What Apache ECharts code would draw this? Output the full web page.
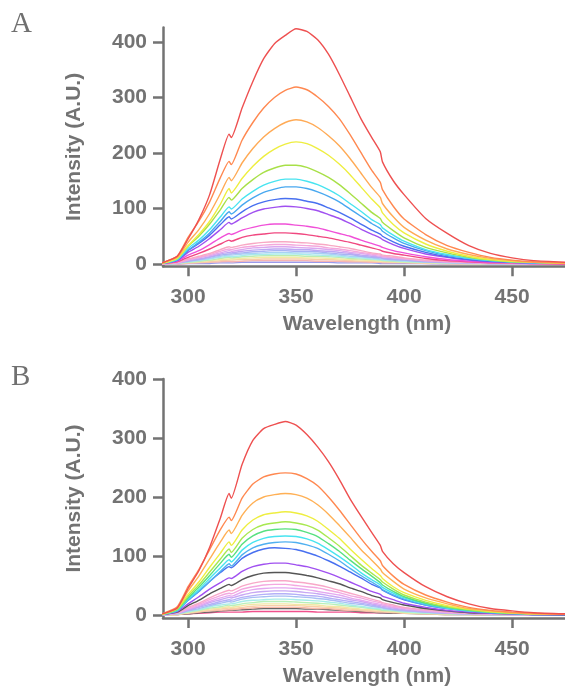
<!DOCTYPE html>
<html><head><meta charset="utf-8">
<script src="https://cdn.jsdelivr.net/npm/echarts@6.0.0/dist/echarts.min.js"></script>
<style>html,body{margin:0;padding:0;background:#fff}#c{width:565px;height:691px}</style>
</head><body><div id="c"></div>
<script>
// wavelength sampling (nm)
const wavelengths = [288,295,300,305,310,315,319,320,325,330,335,340,345,350,355,360,365,370,375,380,385,389,390,395,400,410,420,430,440,450,460,476];
const xTicks = [300,350,400,450];
const yTicks = [0,100,200,300,400];

// Panel A spectra
const aRed      = [2,14,45,80,125,190,234,228,281,329,370,397,412,424,419,404,378,342,302,262,228,202,184,150,125,82,55,33,19,11,6,3];
const aOrange   = [2,14,48,77,112,156,185,179,223,255,281,300,313,319,314,301,284,262,233,201,169,147,134,104,81,53,33,21,12,7,4,2];
const aLtOrange = [2,12,39,62,91,127,156,150,182,208,229,244,255,260,256,246,231,213,190,164,138,120,109,85,66,43,27,17,10,6,3,2];
const aYellow   = [1,10,33,53,77,108,136,128,154,176,194,207,216,220,217,208,196,180,161,139,117,101,92,71,56,36,23,14,8,5,3,1];
const aGreen    = [1,10,32,50,72,98,120,115,136,152,165,173,178,178,174,166,156,143,127,110,93,82,75,60,47,30,20,12,7,4,3,1];
const aCyan     = [1,8,28,43,62,85,103,99,117,131,142,149,153,153,149,143,134,123,109,95,80,71,65,52,41,26,17,10,6,4,2,1];
const aSky      = [1,8,25,39,56,77,94,90,106,119,129,135,139,139,136,130,122,112,99,86,73,64,59,47,37,24,15,10,6,3,2,1];
const aBlue     = [1,7,24,37,52,71,85,81,94,105,112,116,118,117,113,109,101,93,83,72,61,54,50,40,32,21,13,8,5,3,2,1];
const aPurple   = [1,6,21,32,46,62,75,72,83,93,99,102,104,103,100,96,89,82,73,63,54,47,44,35,28,18,12,7,4,3,2,1];
const aMagenta  = [1,5,16,24,35,47,55,53,61,66,70,72,72,70,68,65,60,55,50,43,37,32,30,24,20,13,8,5,3,2,1,1];
const aRose     = [1,4,12,19,27,36,43,41,48,52,54,56,56,55,53,50,47,43,39,34,29,25,23,19,16,10,6,4,2,2,1,0];
const aPale1    = [0,3,9,14,19,26,31,30,34,37,39,40,40,39,38,36,34,31,28,24,20,18,16,14,11,7,5,3,2,1,1,0];
const aPale2    = [0,2,8,12,17,23,27,26,30,32,34,35,35,34,33,32,29,27,24,21,18,16,14,12,10,6,4,3,2,1,1,0];
const aPale3    = [0,2,7,11,15,20,24,23,26,29,30,31,31,30,29,28,26,24,21,19,16,14,13,11,9,6,4,2,1,1,0,0];
const aPale4    = [0,2,6,9,13,18,21,20,23,25,26,27,27,26,26,24,23,21,19,16,14,12,11,9,8,5,3,2,1,1,0,0];
const aPale5    = [0,2,5,8,12,16,18,18,20,22,23,24,24,23,23,22,20,18,17,14,12,11,10,8,7,4,3,2,1,1,0,0];
const aPale6    = [0,1,5,7,10,14,16,16,18,19,20,21,21,20,20,19,18,16,14,13,11,9,9,7,6,4,2,2,1,1,0,0];
const aPale7    = [0,1,4,6,9,12,14,13,15,17,17,18,18,18,17,16,15,14,12,11,9,8,7,6,5,3,2,1,1,0,0,0];
const aPale8    = [0,1,3,5,7,10,12,11,13,14,15,15,15,15,14,14,13,12,10,9,8,7,6,5,4,3,2,1,1,0,0,0];
const aPale9    = [0,1,3,4,6,8,9,9,10,11,12,12,12,12,11,11,10,9,8,7,6,5,5,4,3,2,1,1,1,0,0,0];
const aPale10   = [0,1,2,3,4,6,7,7,8,8,9,9,9,9,9,8,8,7,6,5,5,4,4,3,3,2,1,1,0,0,0,0];
const aPale11   = [0,0,1,2,3,4,5,4,5,6,6,6,6,6,6,5,5,5,4,4,3,3,2,2,2,1,1,0,0,0,0,0];
const aPale12   = [0,0,1,1,1,2,2,2,3,3,3,3,3,3,3,3,3,2,2,2,2,1,1,1,1,1,0,0,0,0,0,0];

// Panel B spectra
const bRed      = [2,12,45,75,115,165,206,198,255,296,316,323,328,322,306,285,260,230,197,168,140,118,108,87,72,48,31,19,11,7,4,2];
const bOrange   = [2,14,48,77,111,145,166,160,198,222,234,239,241,239,231,219,200,178,154,130,108,92,84,66,52,34,22,13,8,5,3,1];
const bLtOrange = [2,12,41,66,95,124,144,138,169,190,200,204,206,204,198,187,171,152,132,111,93,78,72,57,44,29,19,11,7,4,2,1];
const bYellow   = [1,11,35,56,81,105,124,118,144,161,170,173,175,173,168,159,145,130,112,95,79,67,62,48,38,25,16,10,6,4,2,1];
const bYGreen   = [1,10,32,51,73,95,112,106,130,145,153,156,158,156,152,144,131,117,101,85,71,60,56,44,34,22,14,9,5,3,2,1];
const bGreen    = [1,9,29,47,67,88,103,98,120,134,142,145,146,145,140,133,121,108,93,79,66,55,51,40,31,20,13,8,5,3,2,1];
const bCyan     = [1,8,27,43,62,80,94,90,110,123,130,133,134,133,129,122,111,99,86,72,60,51,47,37,29,19,12,7,5,3,2,1];
const bSky      = [1,7,25,40,57,74,87,83,102,114,120,123,124,123,119,113,103,92,79,67,56,47,43,34,27,17,11,7,4,2,1,1];
const bBlue     = [1,8,25,40,57,72,82,80,96,106,112,114,113,111,106,100,92,83,73,63,52,46,42,33,26,17,11,7,4,3,1,1];
const bPurple   = [1,6,19,31,44,55,63,62,74,82,86,88,88,85,82,77,71,64,56,48,40,35,32,26,20,13,8,5,3,2,1,1];
const bGray     = [1,5,16,25,36,45,52,50,60,67,71,72,72,70,67,63,58,53,46,40,33,29,26,21,17,11,7,4,3,2,1,0];
const bPale1    = [1,4,13,20,29,37,42,41,49,54,57,58,58,56,54,51,47,42,37,32,27,23,21,17,13,9,6,3,2,1,1,0];
const bPale2    = [1,4,11,18,26,33,37,36,44,48,51,52,52,50,48,46,42,38,33,29,24,21,19,15,12,8,5,3,2,1,1,0];
const bPale3    = [0,3,10,16,23,29,33,32,39,43,45,46,46,45,43,40,37,34,29,25,21,18,17,13,11,7,4,3,2,1,1,0];
const bPale4    = [0,3,9,14,21,26,30,29,34,38,40,41,41,40,38,36,33,30,26,23,19,16,15,12,9,6,4,2,2,1,1,0];
const bPale5    = [0,3,8,13,18,23,26,25,30,33,35,36,36,35,33,32,29,26,23,20,17,14,13,10,8,5,3,2,1,1,0,0];
const bPale6    = [0,2,7,11,16,20,23,22,27,30,31,32,32,31,30,28,26,23,20,18,15,13,12,9,7,5,3,2,1,1,0,0];
const bPale7    = [0,2,6,9,14,17,19,19,23,25,26,27,27,26,25,24,22,20,17,15,12,11,10,8,6,4,3,2,1,1,0,0];
const bPale8    = [0,2,5,8,12,14,17,16,19,21,23,23,23,22,21,20,19,17,15,13,11,9,8,7,5,3,2,1,1,1,0,0];
const bPale9    = [0,1,4,7,10,12,14,13,16,18,19,19,19,18,18,17,15,14,12,10,9,8,7,6,4,3,2,1,1,0,0,0];
const bPale10   = [0,1,4,6,8,10,12,11,13,15,16,16,16,16,15,14,13,12,10,9,7,6,6,5,4,2,2,1,1,0,0,0];
const bPale11   = [0,1,3,5,7,8,9,9,11,12,13,13,13,13,12,11,11,9,8,7,6,5,5,4,3,2,1,1,0,0,0,0];
const bDark     = [0,1,2,4,5,7,8,8,9,10,11,11,11,11,10,10,9,8,7,6,5,4,4,3,3,2,1,1,0,0,0,0];
const bRoseLow  = [0,1,2,3,4,5,5,5,5,6,6,6,6,6,6,5,5,5,5,4,4,4,4,4,4,3,3,3,3,3,2,2];

const panelA = [aPale12,aPale11,aPale10,aPale9,aPale8,aPale7,aPale6,aPale5,aPale4,aPale3,aPale2,aPale1,
  aRose,aMagenta,aPurple,aBlue,aSky,aCyan,aGreen,aYellow,aLtOrange,aOrange,aRed];
const colorsA = ['#9a9aec','#f6b4b4','#f8cca8','#f2eaa4','#bcecb0','#a8ecea','#a8d2f4','#a8b4f4','#bca8f4','#dca8f0','#f4a8dc','#f8a8c4',
  '#f04880','#f050d8','#a050f0','#4870f0','#48a8f0','#48e4f0','#a8e048','#eeee40','#ffaa55','#ff8850','#ee5050'];
const panelB = [bRoseLow,bDark,bPale11,bPale10,bPale9,bPale8,bPale7,bPale6,bPale5,bPale4,bPale3,bPale2,bPale1,
  bGray,bPurple,bBlue,bSky,bCyan,bGreen,bYGreen,bYellow,bLtOrange,bOrange,bRed];
const colorsB = ['#f0508c','#666666','#f8b8a8','#f8d0a8','#f2e6a4','#b8f0b8','#a8ece8','#a8c0f4','#b4b0f8','#c8a8f4','#e4a8f0','#f4a8e0','#f8a8c8',
  '#555555','#a050f0','#4870f0','#50b0f0','#48e4f0','#58e080','#a8e850','#eeee40','#ffb055','#ff8850','#ee5050'];

const axisColor = '#737373';
const lblFont = {fontFamily:'Liberation Sans, Arial, sans-serif', fontWeight:'bold', fontSize:21, color:axisColor};

function xAx(gi){
  return {gridIndex:gi, type:'value', min:288.4, max:474.5,
    name:'Wavelength (nm)', nameLocation:'middle', nameGap:48,
    nameTextStyle:Object.assign({padding:[0,0,0,6]}, lblFont),
    axisLine:{onZero:false, lineStyle:{color:axisColor, width:2.5}},
    axisTick:{length:10, lineStyle:{color:axisColor, width:2.5}, customValues:xTicks},
    axisLabel:Object.assign({margin:21, customValues:xTicks}, lblFont),
    splitLine:{show:false}};
}
function yAx(gi, mn, mx){
  return {gridIndex:gi, type:'value', min:mn, max:mx,
    name:'Intensity (A.U.)', nameLocation:'middle', nameGap:78, nameRotate:90,
    nameTextStyle:Object.assign({}, lblFont),
    axisLine:{show:true, onZero:false, lineStyle:{color:axisColor, width:2.5}},
    axisTick:{show:true, length:10, lineStyle:{color:axisColor, width:2.5}, customValues:yTicks},
    axisLabel:Object.assign({margin:16, customValues:yTicks}, lblFont),
    splitLine:{show:false}};
}
function mk(arr, color, gi){
  return {type:'line', xAxisIndex:gi, yAxisIndex:gi, showSymbol:false, smooth:0.18,
    lineStyle:{color:color, width:1.4}, itemStyle:{color:color},
    data: wavelengths.map((w,i)=>[w, arr[i]]), silent:true};
}
const series = [];
panelA.forEach((a,i)=>series.push(mk(a, colorsA[i], 0)));
panelB.forEach((a,i)=>series.push(mk(a, colorsB[i], 1)));

const chart = echarts.init(document.getElementById('c'), null, {renderer:'canvas'});
chart.setOption({
  animation:false,
  backgroundColor:'#ffffff',
  grid:[{left:163, top:27.6, width:402, height:238.6},
        {left:163, top:379, width:402, height:239}],
  xAxis:[xAx(0), xAx(1)],
  yAxis:[yAx(0,-4,426), yAx(1,-5,400)],
  graphic:[
    {type:'text', left:11, top:10, style:{text:'A', font:'29px "Liberation Serif", serif', fill:'#707070'}},
    {type:'text', left:11, top:363, style:{text:'B', font:'29px "Liberation Serif", serif', fill:'#707070'}}
  ],
  series:series
});
</script></body></html>
